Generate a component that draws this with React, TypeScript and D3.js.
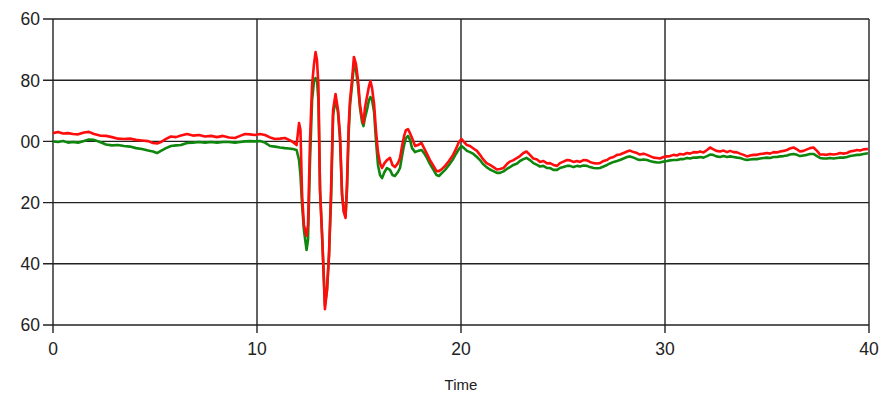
import React, { useRef, useEffect } from "react";
import * as d3 from "d3";

// time axis (seconds) shared by both traces
const time = [
  0.0, 0.25, 0.49, 0.74, 0.98, 1.23, 1.52, 1.76, 2.01, 2.3, 2.6, 2.89, 3.19, 3.48, 3.77, 4.07, 4.36, 4.66, 4.9, 5.1,
  5.29, 5.54, 5.78, 6.03, 6.27, 6.57, 6.86, 7.16, 7.45, 7.75, 8.04, 8.33, 8.63, 8.92, 9.17, 9.41, 9.66, 9.9, 10.15, 10.39,
  10.64, 10.88, 11.13, 11.37, 11.57, 11.76, 11.94,
  12.06, 12.13, 12.21, 12.3, 12.43, 12.5, 12.6, 12.7, 12.79, 12.87, 12.94, 13.01, 13.09, 13.19, 13.26, 13.33, 13.43, 13.53, 13.63, 13.73,
  13.85, 13.97, 14.07, 14.17, 14.26, 14.34, 14.41, 14.49, 14.56, 14.66, 14.75, 14.85, 14.95, 15.05, 15.15, 15.22, 15.29, 15.39, 15.49, 15.56,
  15.64, 15.74, 15.83, 15.93, 16.03, 16.13, 16.25, 16.37, 16.52, 16.64, 16.76, 16.91, 17.01, 17.11, 17.21, 17.3, 17.4, 17.5, 17.6, 17.75,
  17.89, 18.06, 18.19, 18.33, 18.48, 18.65, 18.8, 18.92, 19.07, 19.22, 19.41, 19.61, 19.75, 19.9, 20.02, 20.15, 20.29, 20.44, 20.61, 20.78,
  20.93, 21.08, 21.25, 21.42, 21.59, 21.76, 21.91, 22.08, 22.25, 22.4, 22.57, 22.75, 22.89, 23.06, 23.21, 23.38, 23.55, 23.73, 23.87, 24.04,
  24.22, 24.36, 24.53, 24.71, 24.85, 25.02, 25.2, 25.34, 25.51, 25.69, 25.83, 26.0, 26.18, 26.32, 26.5, 26.67, 26.81, 26.99, 27.16, 27.3,
  27.48, 27.65, 27.79, 27.97, 28.14, 28.28, 28.46, 28.63, 28.77, 28.95, 29.12, 29.26, 29.44, 29.61, 29.75, 29.93, 30.1, 30.25, 30.42, 30.59,
  30.74, 30.91, 31.08, 31.23, 31.4, 31.57, 31.72, 31.89, 32.06, 32.21, 32.35, 32.52, 32.7, 32.87, 33.04, 33.19, 33.36, 33.53, 33.68, 33.85,
  34.02, 34.17, 34.34, 34.51, 34.66, 34.83, 35.0, 35.15, 35.32, 35.49, 35.64, 35.81, 35.98, 36.13, 36.3, 36.47, 36.62, 36.79, 36.96, 37.11,
  37.28, 37.45, 37.6, 37.77, 37.94, 38.09, 38.26, 38.43, 38.58, 38.75, 38.92, 39.07, 39.24, 39.41, 39.56, 39.73, 39.95,
];

// red trace
const redValues = [
  197.3, 196.9, 197.4, 197.3, 197.6, 197.7, 197.1, 196.9, 197.6, 198.1, 198.2, 198.6, 199.1, 199.2, 199.1, 199.5, 199.7, 199.9, 200.5, 200.7,
  200.2, 199.2, 198.4, 198.6, 198.1, 197.6, 198.1, 197.9, 198.4, 198.2, 198.6, 198.2, 198.7, 198.9, 198.2, 197.6, 197.7, 197.9, 197.6, 197.9,
  198.7, 199.2, 199.1, 198.9, 199.5, 200.2, 201.2,
  194.0, 196.2, 217.5, 227.3, 230.9, 227.3, 199.5, 181.6, 175.0, 170.8, 173.4, 181.6, 215.9, 230.6, 242.0, 254.8, 248.6, 237.1, 215.9, 189.7,
  184.5, 189.7, 197.9, 217.5, 223.1, 225.0, 214.2, 195.6, 186.5, 179.9, 172.4, 174.7, 179.9, 188.1, 192.4, 194.0, 189.1, 185.5, 181.9, 180.3,
  182.6, 187.8, 196.3, 203.5, 207.1, 208.7, 207.1, 206.1, 205.4, 207.7, 208.4, 207.1, 205.4, 201.5, 198.2, 196.3, 196.0, 197.3, 198.9, 201.5,
  201.2, 200.5, 202.2, 204.1, 206.1, 208.0, 209.7, 209.7, 209.0, 208.0, 206.4, 204.4, 202.5, 200.2, 199.2, 200.2, 201.2, 201.5, 202.3, 203.1,
  204.4, 205.8, 207.1, 207.7, 208.4, 209.2, 209.0, 208.7, 207.4, 206.6, 206.1, 205.4, 204.8, 203.8, 203.3, 204.4, 205.6, 205.9, 206.7, 206.4,
  207.2, 207.1, 207.7, 208.0, 207.1, 206.6, 206.1, 206.2, 206.7, 206.4, 206.7, 206.1, 206.2, 206.7, 207.1, 207.2, 207.1, 206.4, 206.1, 205.4,
  205.1, 204.4, 204.3, 203.8, 203.3, 203.0, 203.5, 203.8, 204.3, 204.0, 204.4, 204.8, 205.3, 205.4, 205.6, 205.1, 204.9, 204.8, 204.4, 204.6,
  204.1, 204.3, 203.8, 204.0, 203.5, 203.6, 203.3, 203.6, 202.8, 202.0, 202.5, 203.1, 203.3, 203.0, 203.5, 203.1, 203.5, 203.6, 204.0, 204.4,
  204.9, 204.6, 204.4, 204.4, 204.1, 204.0, 203.8, 204.0, 203.5, 203.6, 203.3, 203.1, 202.8, 202.3, 202.0, 202.6, 203.3, 203.1, 202.6, 202.2,
  202.0, 203.1, 204.3, 204.3, 204.4, 204.1, 204.3, 204.1, 203.8, 204.0, 203.8, 203.3, 203.1, 202.8, 203.0, 202.6, 202.5,
];

// green trace
const greenValues = [
  200.0, 200.2, 199.9, 200.4, 200.2, 200.4, 199.9, 199.4, 199.5, 200.2, 201.0, 201.3, 201.2, 201.5, 201.7, 202.2, 202.5, 203.0, 203.3, 203.8,
  203.1, 202.2, 201.5, 201.3, 201.2, 200.5, 200.4, 200.2, 200.4, 200.2, 200.4, 200.2, 200.2, 200.4, 200.2, 200.0, 199.9, 200.0, 199.9, 200.4,
  201.5, 201.7, 202.0, 202.2, 202.3, 202.5, 202.8,
  206.1, 211.0, 220.8, 229.0, 235.5, 232.2, 206.1, 186.5, 180.6, 179.3, 179.9, 186.5, 215.9, 230.6, 242.0, 253.5, 248.6, 237.1, 219.2, 191.4,
  186.5, 190.4, 199.5, 217.5, 223.1, 224.4, 215.9, 197.9, 188.1, 181.6, 175.0, 176.7, 181.6, 189.1, 193.7, 195.0, 192.4, 189.7, 186.5, 185.5,
  186.5, 190.4, 199.5, 207.7, 211.0, 212.0, 210.0, 208.7, 209.3, 211.0, 211.3, 210.0, 208.7, 204.8, 201.2, 198.9, 198.2, 199.5, 202.2, 203.5,
  203.1, 202.8, 203.8, 205.4, 207.4, 209.3, 211.0, 211.3, 210.3, 209.3, 207.7, 205.8, 204.1, 202.5, 201.5, 202.2, 203.1, 203.5, 204.1, 205.1,
  206.1, 207.4, 208.4, 209.2, 209.7, 210.3, 210.3, 209.8, 209.0, 208.4, 207.7, 207.2, 206.4, 205.8, 205.4, 206.1, 207.1, 207.7, 208.2, 208.0,
  208.7, 208.7, 209.3, 209.3, 208.7, 208.4, 208.0, 208.0, 208.4, 208.0, 208.2, 207.9, 208.0, 208.4, 208.7, 208.8, 208.7, 208.2, 207.7, 207.2,
  206.7, 206.4, 206.1, 205.6, 205.1, 204.9, 205.3, 205.8, 206.1, 205.9, 206.1, 206.4, 206.7, 206.9, 206.9, 206.6, 206.4, 206.2, 206.1, 206.1,
  205.8, 205.8, 205.4, 205.6, 205.3, 205.3, 205.1, 205.3, 204.8, 204.3, 204.4, 204.9, 205.1, 204.8, 205.1, 204.9, 205.1, 205.3, 205.4, 205.8,
  206.1, 205.9, 205.8, 205.8, 205.6, 205.4, 205.3, 205.4, 205.1, 205.1, 204.9, 204.8, 204.6, 204.3, 204.1, 204.4, 204.8, 204.6, 204.4, 204.1,
  204.1, 204.8, 205.4, 205.6, 205.6, 205.4, 205.6, 205.4, 205.3, 205.3, 205.1, 204.8, 204.6, 204.4, 204.4, 204.1, 203.9,
];

const xTicks = [0, 10, 20, 30, 40];
const yTicks = [160, 180, 200, 220, 240, 260];
const yTickLabels = ["60", "80", "00", "20", "40", "60"];
const xLabel = "Time";

const W = 890;
const H = 396;
const margin = { top: 19, right: 21, bottom: 71, left: 53 };

const App = () => {
  const svgRef = useRef<SVGSVGElement | null>(null);

  useEffect(() => {
    const svg = d3.select(svgRef.current);
    svg.selectAll("*").remove();

    const x = d3.scaleLinear().domain([0, 40]).range([margin.left, W - margin.right]);
    const y = d3.scaleLinear().domain([160, 260]).range([margin.top, H - margin.bottom]);

    const font = "'Liberation Sans', Arial, sans-serif";
    const gridColor = "#222";

    // horizontal grid + small ticks on the left
    svg.append("g")
      .selectAll("line")
      .data(yTicks)
      .join("line")
      .attr("x1", margin.left - 10)
      .attr("x2", W - margin.right)
      .attr("y1", (d) => y(d))
      .attr("y2", (d) => y(d))
      .attr("stroke", gridColor)
      .attr("stroke-width", 1.4);

    // vertical grid + small ticks at the bottom
    svg.append("g")
      .selectAll("line")
      .data(xTicks)
      .join("line")
      .attr("x1", (d) => x(d))
      .attr("x2", (d) => x(d))
      .attr("y1", margin.top)
      .attr("y2", H - margin.bottom + 8)
      .attr("stroke", gridColor)
      .attr("stroke-width", 1.4);

    // y tick labels
    svg.append("g")
      .selectAll("text")
      .data(yTicks)
      .join("text")
      .attr("x", 40)
      .attr("y", (d) => y(d))
      .attr("dy", "0.36em")
      .attr("text-anchor", "end")
      .attr("font-family", font)
      .attr("font-size", 17.5)
      .attr("fill", "#222")
      .text((d, i) => yTickLabels[i]);

    // x tick labels
    svg.append("g")
      .selectAll("text")
      .data(xTicks)
      .join("text")
      .attr("x", (d) => x(d))
      .attr("y", H - margin.bottom + 30)
      .attr("text-anchor", "middle")
      .attr("font-family", font)
      .attr("font-size", 17.5)
      .attr("fill", "#222")
      .text((d) => String(d));

    svg.append("text")
      .attr("x", (x(0) + x(40)) / 2)
      .attr("y", H - 6)
      .attr("text-anchor", "middle")
      .attr("font-family", font)
      .attr("font-size", 15)
      .attr("fill", "#222")
      .text(xLabel);

    const line = d3
      .line<number>()
      .defined((d, i) => d !== undefined && time[i] !== undefined)
      .x((d, i) => x(time[i]))
      .y((d) => y(d));

    svg.append("path")
      .datum(greenValues)
      .attr("d", line)
      .attr("fill", "none")
      .attr("stroke", "#0f870f")
      .attr("stroke-width", 2.6)
      .attr("stroke-linejoin", "round");

    svg.append("path")
      .datum(redValues)
      .attr("d", line)
      .attr("fill", "none")
      .attr("stroke", "#ff0d0d")
      .attr("stroke-width", 2.6)
      .attr("stroke-linejoin", "round");
  }, []);

  return (
    <svg
      ref={svgRef}
      width={W}
      height={H}
      style={{ position: "absolute", left: 0, top: 0, background: "#fff" }}
    />
  );
};

export default App;
